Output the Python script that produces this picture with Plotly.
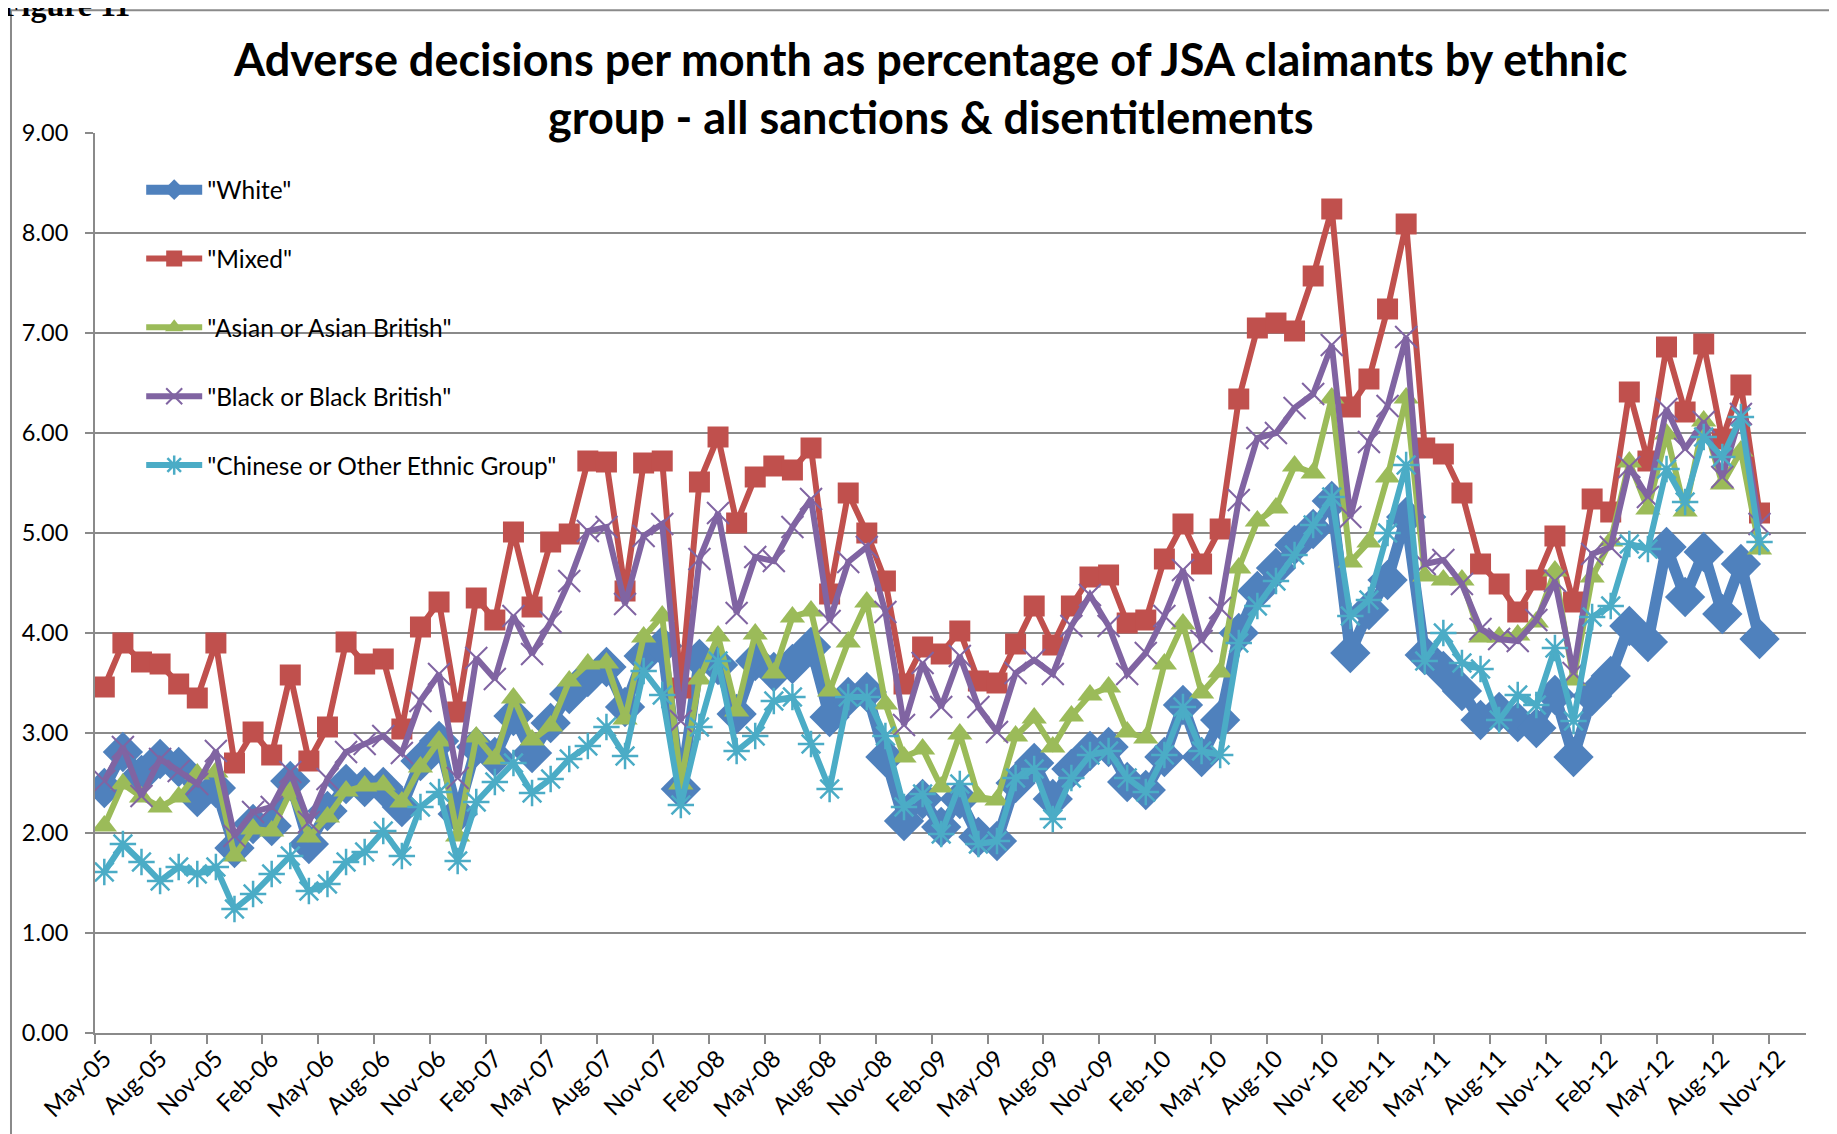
import plotly.graph_objects as go
import pandas as pd

# category axis: May-05 .. Dec-12 (data runs to Oct-12)
months = pd.date_range("2005-05-01", "2012-12-01", freq="MS").strftime("%b-%y").tolist()

white = [2.45, 2.81, 2.58, 2.74, 2.66, 2.36, 2.45, 1.85, 2.09, 2.07, 2.52, 1.89, 2.22, 2.49, 2.46,
         2.46, 2.26, 2.72, 2.92, 2.19, 2.86, 2.76, 3.17, 2.80, 3.10, 3.39, 3.56, 3.66, 3.26, 3.77,
         3.87, 2.44, 3.74, 3.68, 3.19, 3.72, 3.61, 3.69, 3.86, 3.16, 3.36, 3.41, 2.76, 2.12, 2.34,
         2.06, 2.34, 1.96, 1.92, 2.50, 2.70, 2.34, 2.64, 2.82, 2.86, 2.51, 2.43, 2.76, 3.28, 2.76,
         3.13, 4.00, 4.42, 4.65, 4.88, 5.04, 5.32, 3.80, 4.23, 4.53, 5.16, 3.78, 3.62, 3.42, 3.13,
         3.21, 3.11, 3.05, 3.38, 2.76, 3.37, 3.57, 4.07, 3.91, 4.86, 4.36, 4.81, 4.19, 4.69, 3.94]

mixed = [3.46, 3.90, 3.71, 3.69, 3.49, 3.35, 3.90, 2.70, 3.01, 2.78, 3.58, 2.72, 3.06, 3.91, 3.69,
         3.74, 3.04, 4.06, 4.31, 3.21, 4.35, 4.13, 5.01, 4.26, 4.91, 4.99, 5.72, 5.71, 4.42, 5.70,
         5.72, 3.45, 5.51, 5.96, 5.10, 5.56, 5.67, 5.63, 5.85, 4.39, 5.40, 5.00, 4.52, 3.49, 3.86,
         3.79, 4.02, 3.52, 3.50, 3.89, 4.27, 3.88, 4.27, 4.56, 4.58, 4.10, 4.13, 4.74, 5.09, 4.69,
         5.04, 6.34, 7.05, 7.10, 7.02, 7.57, 8.24, 6.26, 6.54, 7.24, 8.09, 5.85, 5.79, 5.40, 4.69,
         4.49, 4.21, 4.53, 4.97, 4.31, 5.34, 5.21, 6.41, 5.72, 6.86, 6.21, 6.89, 5.94, 6.48, 5.20]

asian = [2.07, 2.49, 2.36, 2.26, 2.36, 2.59, 2.61, 1.77, 2.04, 2.02, 2.41, 1.96, 2.16, 2.42, 2.47,
         2.48, 2.31, 2.66, 2.92, 1.97, 2.96, 2.74, 3.35, 2.93, 3.07, 3.52, 3.69, 3.70, 3.14, 3.96,
         4.17, 2.49, 3.54, 3.97, 3.22, 3.99, 3.60, 4.16, 4.22, 3.42, 3.91, 4.31, 3.29, 2.76, 2.84,
         2.46, 2.99, 2.36, 2.33, 2.97, 3.15, 2.86, 3.17, 3.38, 3.46, 3.01, 2.95, 3.69, 4.09, 3.40,
         3.61, 4.65, 5.12, 5.25, 5.67, 5.60, 6.35, 4.71, 4.91, 5.56, 6.35, 4.57, 4.53, 4.53, 3.96,
         3.96, 3.98, 4.11, 4.62, 3.53, 4.56, 4.92, 5.71, 5.24, 5.99, 5.22, 6.12, 5.49, 5.82, 4.84]

black = [2.52, 2.86, 2.37, 2.74, 2.62, 2.49, 2.82, 1.97, 2.21, 2.26, 2.61, 2.11, 2.54, 2.81, 2.89,
         2.97, 2.80, 3.32, 3.59, 2.55, 3.75, 3.54, 4.17, 3.79, 4.11, 4.52, 5.02, 5.06, 4.29, 4.97,
         5.09, 3.12, 4.74, 5.20, 4.20, 4.76, 4.72, 5.06, 5.34, 4.12, 4.71, 4.86, 4.21, 3.08, 3.70,
         3.26, 3.77, 3.26, 3.01, 3.60, 3.73, 3.59, 4.07, 4.38, 4.07, 3.59, 3.80, 4.17, 4.63, 3.92,
         4.25, 5.33, 5.95, 6.00, 6.25, 6.39, 6.88, 5.16, 5.91, 6.27, 6.96, 4.69, 4.73, 4.49, 4.04,
         3.94, 3.92, 4.13, 4.52, 3.60, 4.79, 4.86, 5.66, 5.36, 6.24, 5.84, 6.11, 5.56, 6.19, 5.09]

chinese = [1.61, 1.89, 1.71, 1.52, 1.66, 1.59, 1.66, 1.24, 1.39, 1.59, 1.77, 1.42, 1.49, 1.71, 1.81,
           2.02, 1.77, 2.26, 2.41, 1.72, 2.31, 2.51, 2.70, 2.40, 2.54, 2.74, 2.87, 3.06, 2.77, 3.62,
           3.38, 2.28, 3.06, 3.72, 2.82, 2.97, 3.32, 3.36, 2.89, 2.44, 3.36, 3.36, 2.97, 2.26, 2.39,
           1.99, 2.49, 1.89, 1.92, 2.55, 2.64, 2.14, 2.55, 2.78, 2.82, 2.55, 2.41, 2.78, 3.26, 2.82,
           2.78, 3.90, 4.27, 4.52, 4.78, 5.08, 5.36, 4.17, 4.33, 5.00, 5.68, 3.72, 4.00, 3.70, 3.64,
           3.13, 3.38, 3.28, 3.85, 3.12, 4.16, 4.27, 4.89, 4.84, 5.64, 5.31, 5.96, 5.76, 6.16, 4.91]

FONT = "Lato"
GRID = "#8a8a8a"

series = [
    ('"White"', white, "#4F81BD", 11, dict(symbol="diamond", size=31)),
    ('"Mixed"', mixed, "#C0504D", 6, dict(symbol="square", size=21)),
    ('"Asian or Asian British"', asian, "#9BBB59", 6, dict(symbol="triangle-up", size=22)),
    ('"Black or Black British"', black, "#8064A2", 6,
     dict(symbol="x-thin-open", size=22, line=dict(width=2, color="#8064A2"))),
    ('"Chinese or Other Ethnic Group"', chinese, "#4BACC6", 6,
     dict(symbol="asterisk-open", size=22, line=dict(width=2.5, color="#4BACC6"))),
]

fig = go.Figure()
for i, (name, vals, color, lw, mk) in enumerate(series):
    fig.add_trace(go.Scatter(
        x=list(range(len(vals))), y=vals,
        mode="lines+markers", name=name,
        line=dict(color=color, width=lw),
        marker=dict(color=color, **mk),
        legendgroup=str(i),
    ))

tick_idx = list(range(0, len(months) - 1, 3))

# the page body has an 8px margin, so the margins are trimmed by that much
fig.update_layout(
    width=1837, height=1134,
    margin=dict(l=87, r=39, t=125, b=109),
    paper_bgcolor="white", plot_bgcolor="white",
    font=dict(family=FONT, size=21, color="black"),
    showlegend=True,
    legend=dict(
        x=0.027, y=0.962, xanchor="left", yanchor="top",
        bgcolor="rgba(0,0,0,0)", font=dict(family=FONT, size=24.5, color="black"),
        tracegroupgap=34, itemwidth=56,
    ),
    xaxis=dict(
        range=[-0.5, len(months) - 0.5],
        tickvals=tick_idx, ticktext=[months[k] for k in tick_idx],
        tickangle=-45, ticks="", showgrid=False, zeroline=False,
        showline=True, linecolor=GRID, linewidth=2,
        minor=dict(tickvals=[k - 0.5 for k in tick_idx], ticks="outside",
                   ticklen=9, tickwidth=2, tickcolor=GRID, showgrid=False),
        tickfont=dict(family=FONT, size=24, color="black"),
        automargin=False,
    ),
    yaxis=dict(
        range=[0, 9], dtick=1, tickformat=".2f",
        showgrid=True, gridcolor=GRID, gridwidth=2,
        zeroline=False, showline=True, linecolor=GRID, linewidth=2,
        ticks="outside", ticklen=8, tickwidth=2, tickcolor=GRID,
        ticklabelstandoff=12,
        tickfont=dict(family=FONT, size=23.5, color="black"),
        automargin=False,
    ),
)

# chart title (two lines as in the original)
fig.add_annotation(text="Adverse decisions per month as percentage of JSA claimants by ethnic",
                   xref="paper", yref="paper", x=0.4886, y=1.082, showarrow=False,
                   xanchor="center", yanchor="middle",
                   font=dict(family=FONT, size=45, color="black", weight="bold"))
fig.add_annotation(text="group - all sanctions & disentitlements",
                   xref="paper", yref="paper", x=0.4886, y=1.018, showarrow=False,
                   xanchor="center", yanchor="middle",
                   font=dict(family=FONT, size=45, color="black", weight="bold"))
# figure caption cut off at top of the page
fig.add_annotation(text="Figure 11", xref="paper", yref="paper", x=-0.0555, y=1.1425,
                   showarrow=False, xanchor="left", yanchor="middle",
                   font=dict(family="Liberation Serif", size=32, color="black", weight="bold"))

# outer chart border
fig.add_shape(type="rect", xref="paper", yref="paper",
              x0=-0.0491, x1=1.0142, y0=-0.13, y1=1.1363,
              line=dict(color=GRID, width=2), fillcolor="rgba(0,0,0,0)", layer="below")

fig.write_html("out.html")
